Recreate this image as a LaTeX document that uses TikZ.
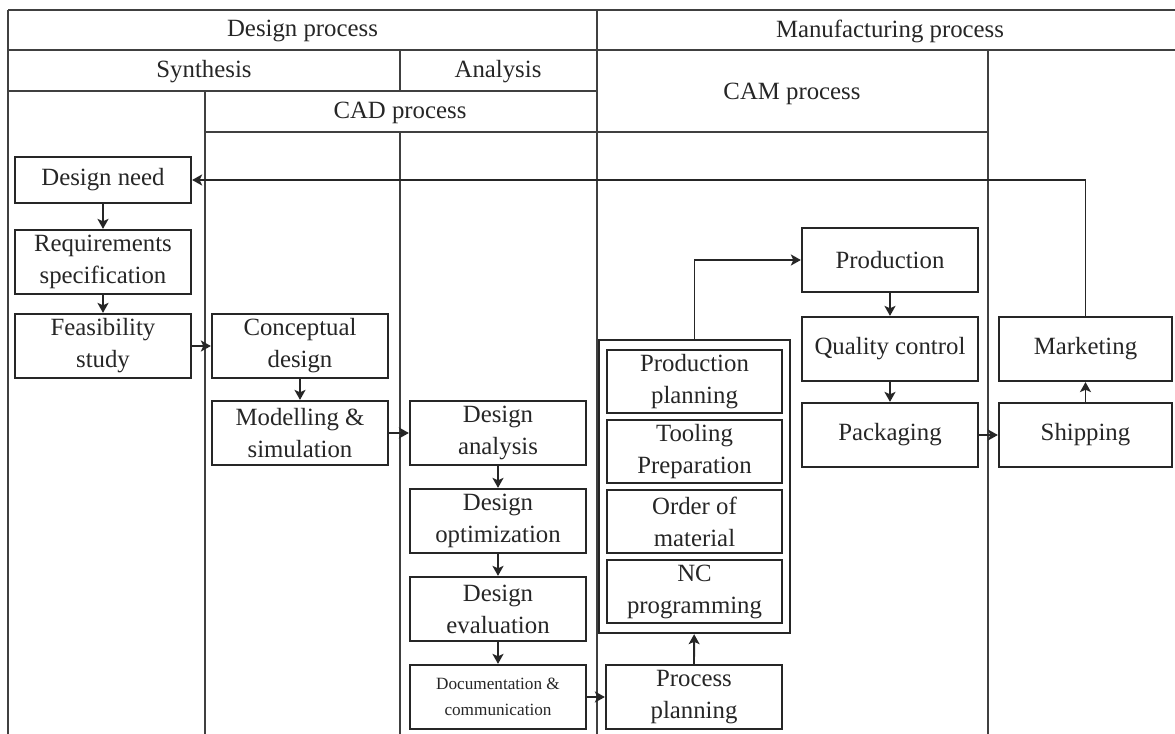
\documentclass[tikz,border=0pt]{standalone}
\usepackage{fontspec}
\setmainfont{Liberation Serif}
\usetikzlibrary{positioning, fit, arrows.meta}

\begin{document}
\begin{tikzpicture}[x=0.5pt, y=-0.5pt, node distance = 44pt, >={Stealth[length=5pt, width=5.5pt, inset=1.2pt]},
    stage/.style={draw=black!85, line width=1.1pt, minimum width=88pt, minimum height=32pt, align=center, inner sep=1pt, text=black!85, font=\fontsize{12.4}{16}\selectfont},
    head/.style={text=black!85, font=\fontsize{12.4}{15}\selectfont},
    grid/.style={draw=black!75, line width=0.8pt},
    flow/.style={->, draw=black!85, line width=0.9pt}]
      \useasboundingbox (0,0) rectangle (1175,734);

      \draw[grid] (8,10) -- (1175,10);
      \draw[grid] (8,50) -- (1175,50);
      \draw[grid] (8,91) -- (597,91);
      \draw[grid] (205,132) -- (988,132);
      \draw[grid] (8,10) -- (8,734);
      \draw[grid] (597,10) -- (597,734);
      \draw[grid] (400,50) -- (400,91);
      \draw[grid] (400,132) -- (400,734);
      \draw[grid] (205,91) -- (205,734);
      \draw[grid] (988,50) -- (988,734);

      \node[head] (dproc) at (302.5,31) {Design process};
      \node[head] (mproc) at (890,31) {Manufacturing process};
      \node[head] (synth) at (204,72) {Synthesis};
      \node[head] (anal) at (498,72) {Analysis};
      \node[head] (cad) at (400,113) {CAD process};
      \node[head] (cam) at (792,94) {CAM process};

      \node[stage, minimum height=23pt] (need) at (103,180) {Design need};
      \node[stage] (req) [below of = need, node distance=41pt] {Requirements\\specification};
      \node[stage] (feas) [below of = req, node distance=42pt] {Feasibility\\study};
      \node[stage] (concept) [right of = feas, node distance=98.5pt] {Conceptual\\design};
      \node[stage] (model) [below of = concept, node distance=43.5pt] {Modelling \&\\simulation};
      \node[stage] (danal) [right of = model, node distance=99pt] {Design\\analysis};
      \node[stage] (dopt) [below of = danal] {Design\\optimization};
      \node[stage] (deval) [below of = dopt] {Design\\evaluation};
      \node[stage, font=\fontsize{8.6}{13}\selectfont] (doc) [below of = deval] {Documentation \&\\communication};
      \node[stage] (pplan) [right of = doc, node distance=98pt] {Process\\planning};

      \node[stage, minimum width=87.5pt, minimum height=31.5pt] (prodplan) at (694.5,381.5) {Production\\planning};
      \node[stage, minimum width=87.5pt, minimum height=31.5pt] (tooling) [below of = prodplan, node distance=35pt] {Tooling\\Preparation};
      \node[stage, minimum width=87.5pt, minimum height=31.5pt] (order) [below of = tooling, node distance=35pt] {Order of\\material};
      \node[stage, minimum width=87.5pt, minimum height=31.5pt] (nc) [below of = order, node distance=35pt] {NC\\programming};
      \node[draw=black!85, line width=1.1pt, inner xsep=3.5pt, inner ysep=4.5pt, fit=(prodplan)(nc)] (prep) {};

      \node[stage] (prod) at (890,260) {Production};
      \node[stage] (qc) [below of = prod, node distance=44.5pt] {Quality control};
      \node[stage] (pack) [below of = qc, node distance=43pt] {Packaging};
      \node[stage, minimum width=86.5pt] (ship) [right of = pack, node distance=97.75pt] {Shipping};
      \node[stage, minimum width=86.5pt] (mkt) [above of = ship, node distance=43pt] {Marketing};

      \draw[flow] (need) -- (req);
      \draw[flow] (req) -- (feas);
      \draw[flow] (feas) -- (concept);
      \draw[flow] (concept) -- (model);
      \draw[flow] (model) -- (danal);
      \draw[flow] (danal) -- (dopt);
      \draw[flow] (dopt) -- (deval);
      \draw[flow] (deval) -- (doc);
      \draw[flow] (doc) -- (pplan);
      \draw[flow] (pplan) -- (prep);
      \draw[flow] (prep.north) |- (prod);
      \draw[flow] (prod) -- (qc);
      \draw[flow] (qc) -- (pack);
      \draw[flow] (pack) -- (ship);
      \draw[flow] (ship) -- (mkt);
      \draw[flow] (mkt.north) |- (need);
    \end{tikzpicture}
\end{document}
